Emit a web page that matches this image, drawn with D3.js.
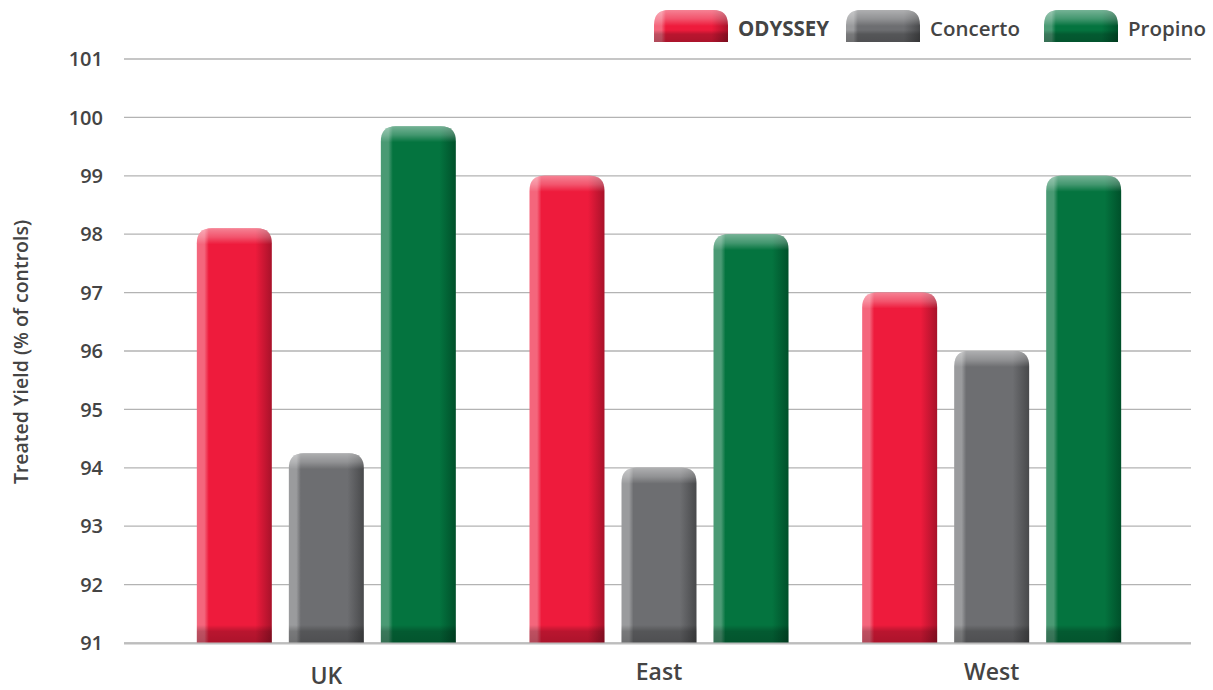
<!DOCTYPE html>
<html>
<head>
<meta charset="utf-8">
<script src="https://cdn.jsdelivr.net/npm/d3@7"></script>
<style>
  body{margin:0;background:#fff;}
  text{font-family:"Open Sans",sans-serif;fill:#444;}
  .grid line{stroke:#b3b3b3;stroke-width:1.3;}
</style>
</head>
<body>
<script>
var regions=["UK","East","West"];
var products=["ODYSSEY","Concerto","Propino"];
var odyssey=[98.1,99.0,97.0];
var concerto=[94.25,94.0,96.0];
var propino=[99.85,98.0,99.0];
var yTicks=[91,92,93,94,95,96,97,98,99,100,101];

var colors={ODYSSEY:["#f4667c","#ee1b3c","#a8122a"],Concerto:["#9a9b9d","#6d6e71","#48494b"],Propino:["#4a9a74","#04743f","#00502a"]};

var w=1213,h=690;
var svg=d3.select('body').append('svg').attr('width',w).attr('height',h);
var defs=svg.append('defs');

var x0=d3.scaleBand().domain(regions).range([160,1158]);
var x1=d3.scaleBand().domain(products).range([0,259]).paddingInner(0.185);
var y=d3.scaleLinear().domain([91,101]).range([643,59]);

// gradients
products.forEach(function(p,i){
    var c=colors[p];
    var g=defs.append('linearGradient').attr('id','hg'+i).attr('x1','0').attr('x2','1').attr('y1','0').attr('y2','0');
    g.append('stop').attr('offset','0').attr('stop-color',c[0]);
    g.append('stop').attr('offset','0.1').attr('stop-color',c[0]);
    g.append('stop').attr('offset','0.16').attr('stop-color',c[1]);
    g.append('stop').attr('offset','0.78').attr('stop-color',c[1]);
    g.append('stop').attr('offset','1').attr('stop-color',c[2]);
});
var gl=defs.append('linearGradient').attr('id','gloss').attr('x1','0').attr('x2','0').attr('y1','0').attr('y2','1');
gl.append('stop').attr('offset','0').attr('stop-color','#fff').attr('stop-opacity',0.45);
gl.append('stop').attr('offset','0.55').attr('stop-color','#fff').attr('stop-opacity',0.25);
gl.append('stop').attr('offset','1').attr('stop-color','#fff').attr('stop-opacity',0);
var sh=defs.append('linearGradient').attr('id','shade').attr('x1','0').attr('x2','0').attr('y1','0').attr('y2','1');
sh.append('stop').attr('offset','0').attr('stop-color','#000').attr('stop-opacity',0);
sh.append('stop').attr('offset','0.35').attr('stop-color','#000').attr('stop-opacity',0.22);
sh.append('stop').attr('offset','1').attr('stop-color','#000').attr('stop-opacity',0.28);

function topRounded(x,yTop,bw,bh,r){
    return "M"+x+","+(yTop+bh)+"V"+(yTop+r)+"Q"+x+","+yTop+" "+(x+r)+","+yTop+
        "H"+(x+bw-r)+"Q"+(x+bw)+","+yTop+" "+(x+bw)+","+(yTop+r)+"V"+(yTop+bh)+"Z";
}

function glossyBar(g,x,yTop,bw,bh,i,shadeH){
    g.append('path').attr('d',topRounded(x,yTop,bw,bh,15)).attr('fill','url(#hg'+i+')');
    g.append('path').attr('d',topRounded(x,yTop,bw,Math.min(16,bh),15)).attr('fill','url(#gloss)');
    g.append('rect').attr('x',x).attr('y',yTop+bh-shadeH).attr('width',bw).attr('height',shadeH).attr('fill','url(#shade)');
}

// grid
var grid=svg.append('g').attr('class','grid');
grid.selectAll('line').data(yTicks).enter().append('line')
    .attr('x1',124).attr('x2',1191)
    .attr('y1',function(d){return y(d);}).attr('y2',function(d){return y(d);});

// y tick labels
svg.append('g').selectAll('text').data(yTicks).enter().append('text')
    .attr('x',103).attr('y',function(d){return y(d);}).attr('dy','0.36em')
    .attr('text-anchor','end').attr('font-size',20).attr('font-weight',600)
    .text(function(d){return d;});

// axis title
svg.append('text').attr('transform','translate(28,352) rotate(-90)')
    .attr('text-anchor','middle').attr('font-size',19.5).attr('font-weight',600)
    .text('Treated Yield (% of controls)');

// bars
var series=[odyssey,concerto,propino];
var bars=svg.append('g');
regions.forEach(function(r,ri){
    var gx=x0(r)+(x0.bandwidth()-259)/2;
    products.forEach(function(p,pi){
        var v=series[pi][ri];
        glossyBar(bars,gx+x1(p),y(v),x1.bandwidth(),y(91)-y(v),pi,18);
    });
});

// baseline
svg.append('line').attr('x1',124).attr('x2',1191).attr('y1',y(91)+0.5).attr('y2',y(91)+0.5)
    .attr('stroke','#bdbdbd').attr('stroke-width',2);

// category labels
svg.append('g').selectAll('text').data(regions).enter().append('text')
    .attr('x',function(d){return x0(d)+x0.bandwidth()/2;})
    .attr('y',function(d,i){return i==0?684:680;})
    .attr('text-anchor','middle').attr('font-size',23).attr('font-weight',600)
    .text(function(d){return d;});

// legend
var legX=[654,846,1044];
var leg=svg.append('g');
products.forEach(function(p,i){
    glossyBar(leg,legX[i],10,74,32,i,12);
    leg.append('text').attr('x',legX[i]+84).attr('y',29).attr('dy','0.36em')
        .attr('font-size',20.5).attr('font-weight',i==0?700:600).text(p);
});
</script>
</body>
</html>
